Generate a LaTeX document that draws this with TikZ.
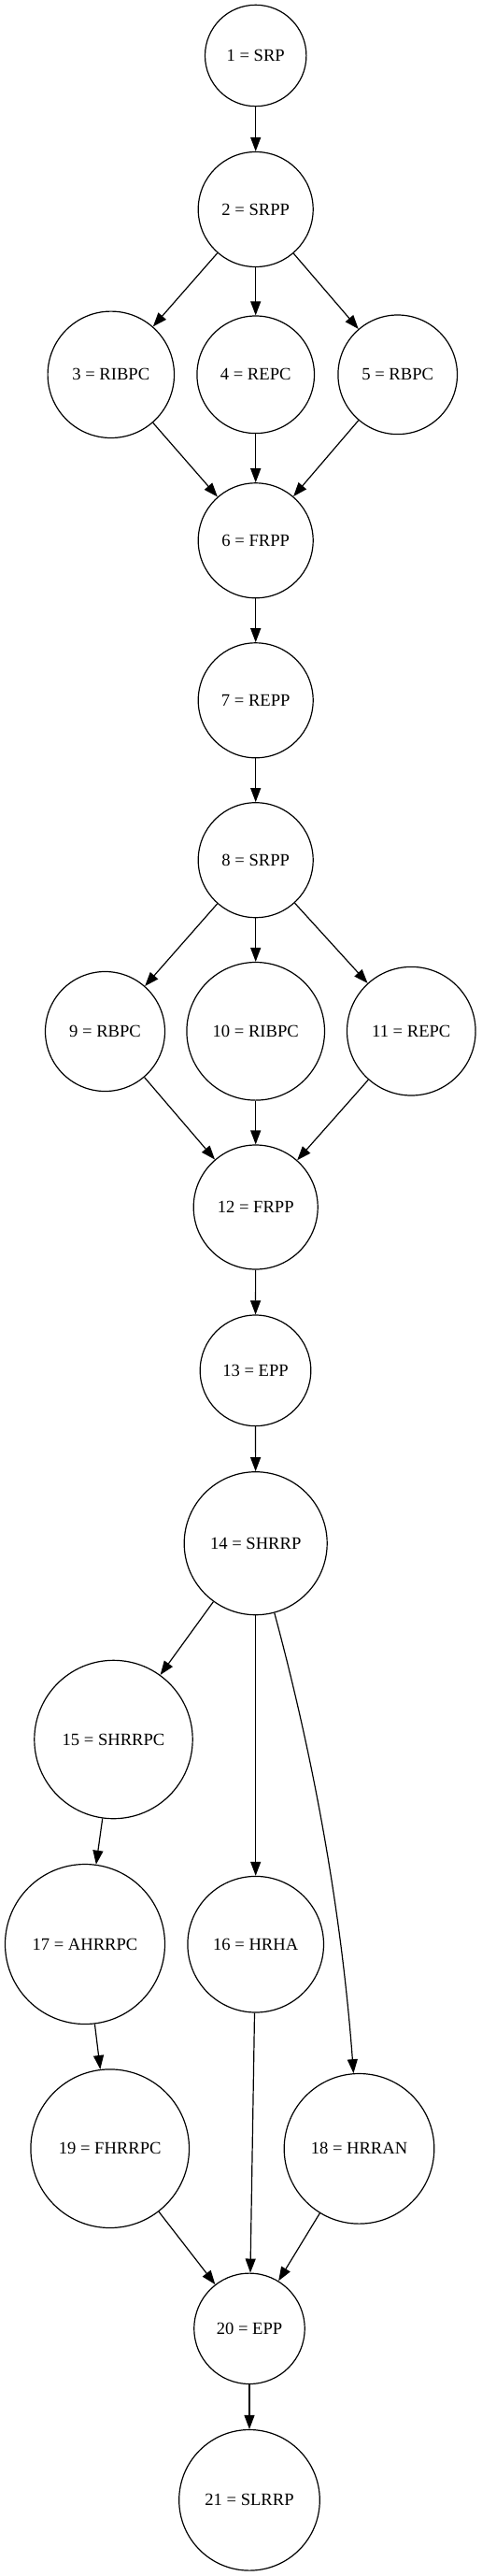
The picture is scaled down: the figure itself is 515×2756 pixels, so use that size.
\documentclass[tikz,border=0pt]{standalone}
\usepackage{fontspec}
\setmainfont{Liberation Serif}
\usetikzlibrary{arrows.meta}
\begin{document}
\begin{tikzpicture}[x=0.5pt,y=-0.5pt,
  st/.style={circle,draw,line width=0.6pt,inner sep=0pt,font=\fontsize{9.3}{11}\selectfont},
  edge/.style={-{Triangle[length=7.5pt,width=5.5pt]},line width=0.6pt}]
\useasboundingbox (0,0) rectangle (515,2756);
\node[st,minimum size=54.2pt] (n1) at (273.7,59.5) {1 = SRP};
\node[st,minimum size=61.5pt] (n2) at (273.7,224) {2 = SRPP};
\node[st,minimum size=67.7pt] (n3) at (118.8,400.8) {3 = RIBPC};
\node[st,minimum size=62.8pt] (n4) at (273.7,400.8) {4 = REPC};
\node[st,minimum size=63.8pt] (n5) at (425.7,400.8) {5 = RBPC};
\node[st,minimum size=61.5pt] (n6) at (273.7,578.3) {6 = FRPP};
\node[st,minimum size=61.5pt] (n7) at (273.7,749.3) {7 = REPP};
\node[st,minimum size=61.5pt] (n8) at (273.7,920.2) {8 = SRPP};
\node[st,minimum size=64pt] (n9) at (112.5,1103.5) {9 = RBPC};
\node[st,minimum size=73.8pt] (n10) at (273.7,1103.3) {10 = RIBPC};
\node[st,minimum size=68.8pt] (n11) at (440.3,1103.2) {11 = REPC};
\node[st,minimum size=66.5pt] (n12) at (273.7,1291.5) {12 = FRPP};
\node[st,minimum size=59.3pt] (n13) at (273.5,1466.3) {13 = EPP};
\node[st,minimum size=76.5pt] (n14) at (273.7,1651.2) {14 = SHRRP};
\node[st,minimum size=84.7pt] (n15) at (121.5,1861) {15 = SHRRPC};
\node[st,minimum size=72.8pt] (n16) at (273.7,2080.2) {16 = HRHA};
\node[st,minimum size=85.5pt] (n17) at (91,2080) {17 = AHRRPC};
\node[st,minimum size=80.3pt] (n18) at (384.5,2298.8) {18 = HRRAN};
\node[st,minimum size=84.8pt] (n19) at (117.7,2298.7) {19 = FHRRPC};
\node[st,minimum size=59.2pt] (n20) at (267,2491.3) {20 = EPP};
\node[st,minimum size=75.3pt] (n21) at (267,2674.8) {21 = SLRRP};
\draw[edge] (n1) -- (n2);
\draw[edge] (n2) -- (n3);
\draw[edge] (n2) -- (n4);
\draw[edge] (n2) -- (n5);
\draw[edge] (n3) -- (n6);
\draw[edge] (n4) -- (n6);
\draw[edge] (n5) -- (n6);
\draw[edge] (n6) -- (n7);
\draw[edge] (n7) -- (n8);
\draw[edge] (n8) -- (n9);
\draw[edge] (n8) -- (n10);
\draw[edge] (n8) -- (n11);
\draw[edge] (n9) -- (n12);
\draw[edge] (n10) -- (n12);
\draw[edge] (n11) -- (n12);
\draw[edge] (n12) -- (n13);
\draw[edge] (n13) -- (n14);
\draw[edge] (n14) -- (n15);
\draw[edge] (n14) -- (n16);
\draw[edge] (n14) .. controls (338.6,1891.7) and (366.1,2053) .. (n18);
\draw[edge] (n15) -- (n17);
\draw[edge] (n17) -- (n19);
\draw[edge] (n16) -- (n20);
\draw[edge] (n19) -- (n20);
\draw[edge] (n18) -- (n20);
\draw[edge] (n20) -- (n21);
\end{tikzpicture}
\end{document}
